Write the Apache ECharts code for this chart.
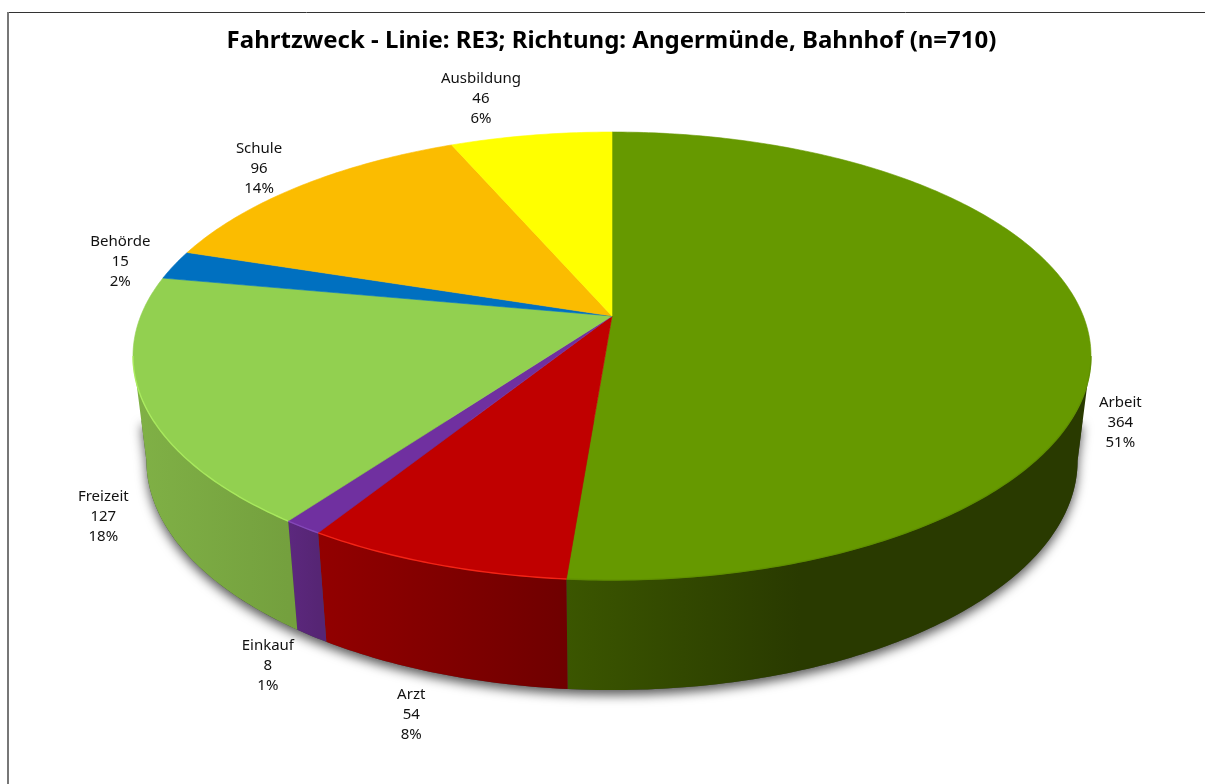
<!DOCTYPE html>
<html>
<head>
<meta charset="utf-8">
<script src="https://cdn.jsdelivr.net/npm/echarts@6/dist/echarts.min.js"></script>
<style>html,body{margin:0;padding:0;background:#fff}#c{width:1205px;height:784px}</style>
</head>
<body>
<div id="c"></div>
<script>
const titleText = 'Fahrtzweck - Linie: RE3; Richtung: Angermünde, Bahnhof (n=710)';
const categories = ['Arbeit', 'Arzt', 'Einkauf', 'Freizeit', 'Behörde', 'Schule', 'Ausbildung'];
const values = [364, 54, 8, 127, 15, 96, 46];
const percents = ['51%', '8%', '1%', '18%', '2%', '14%', '6%'];
const topColors = ['#669900', '#c00000', '#7030a0', '#92d050', '#0070c0', '#fbbc00', '#ffff00'];
const rimColors = ['#5f8f00', '#ff2a1a', '#8a4cc0', '#aef060', '#0070c0', '#fbbc00', '#ffff00'];
const wallFrom = ['#3b5600', '#920000', '#5c287e', '#80b146', '#005a9a', '#c89600', '#cccc00'];
const wallTo = ['#293a00', '#6f0000', '#562574', '#74a03e', '#005a9a', '#c89600', '#cccc00'];
const labelOffsets = [[34, 98], [-23, 151], [-35, 139], [-40, 114], [-54, -3], [-42, -17], [-50, -37]];

// Perspective projection of the unit disc onto the page
const K = 0.1786, CX = 612;
const topDisc = { b: 471.3, y0: 316, a: 160.4 };
const lowDisc = { b: 458.1, y0: 419.8, a: 147 };
const midDisc = { b: 463, y0: 380, a: 152 };
const SIL_A = 100.3, SIL_B = 259.7; // silhouette angles of the projected disc
function project(disc, deg) {
  const t = deg * Math.PI / 180, u = Math.sin(t), v = Math.cos(t), w = 1 + K * v;
  return [CX + disc.b * u / w, (disc.y0 - disc.a * v) / w];
}
const total = values.reduce((s, x) => s + x, 0);
const starts = [];
values.reduce((s, x, i) => { starts[i] = s; return s + x; }, 0);
const angle = x => x / total * 360;
function arc(disc, a0, a1) {
  const n = Math.max(2, Math.ceil((a1 - a0) / 0.75)), pts = [];
  for (let i = 0; i <= n; i++) pts.push(project(disc, a0 + (a1 - a0) * i / n));
  return pts;
}
const rows = values.map((v, i) => [i, v]);

function renderShadow(params, api) {
  if (params.dataIndex !== 0) return null;
  return {
    type: 'polygon', silent: true,
    shape: { points: arc(lowDisc, SIL_A, SIL_B).concat([project(midDisc, SIL_B), project(midDisc, SIL_A)]) },
    style: { fill: '#444', shadowBlur: 11, shadowColor: 'rgba(0,0,0,0.65)', shadowOffsetX: 0, shadowOffsetY: 5 }
  };
}
function renderWall(params, api) {
  const i = api.value(0), a0 = Math.max(angle(starts[i]), SIL_A), a1 = Math.min(angle(starts[i] + api.value(1)), SIL_B);
  if (a1 <= a0) return null;
  const top = arc(topDisc, a0, a1), low = arc(lowDisc, a0, a1).reverse();
  let xA = project(topDisc, a0)[0], xB = project(topDisc, a1)[0];
  if (i === 0) { xA = 567; xB = 800; }
  else if (xA > xB) { const s = xA; xA = xB; xB = s; }
  return {
    type: 'polygon', silent: true,
    shape: { points: top.concat(low) },
    style: {
      fill: { type: 'linear', global: true, x: xA, y: 0, x2: xB, y2: 0,
        colorStops: [{ offset: 0, color: wallFrom[i] }, { offset: 1, color: wallTo[i] }] }
    }
  };
}
function renderTop(params, api) {
  const i = api.value(0), a0 = angle(starts[i]), a1 = angle(starts[i] + api.value(1));
  return {
    type: 'polygon', silent: true,
    shape: { points: [[CX, topDisc.y0]].concat(arc(topDisc, a0, a1)) },
    style: { fill: topColors[i], stroke: topColors[i], lineWidth: 0.6 }
  };
}
function renderRim(params, api) {
  const i = api.value(0), a0 = Math.max(angle(starts[i]), SIL_A), a1 = Math.min(angle(starts[i] + api.value(1)), SIL_B);
  if (a1 <= a0) return null;
  return {
    type: 'polyline', silent: true,
    shape: { points: arc(topDisc, a0, a1) },
    style: { fill: null, stroke: rimColors[i], lineWidth: 1.4, opacity: 0.85 }
  };
}
function renderLabel(params, api) {
  const i = api.value(0), mid = angle(starts[i] + api.value(1) / 2), p = project(topDisc, mid);
  return {
    type: 'text', silent: true,
    style: {
      text: categories[i] + '\n' + api.value(1) + '\n' + percents[i],
      x: p[0] + labelOffsets[i][0], y: p[1] + labelOffsets[i][1],
      align: 'center', verticalAlign: 'middle',
      fontFamily: 'Noto Sans', fontSize: 15, lineHeight: 20, fill: '#111'
    }
  };
}
const mk = (fn, z) => ({ type: 'custom', coordinateSystem: 'none', renderItem: fn, data: rows, z, animation: false, silent: true, clip: false, encode: { value: 1 } });
const chart = echarts.init(document.getElementById('c'), null, { renderer: 'canvas' });
chart.setOption({
  animation: false,
  backgroundColor: '#fff',
  title: {
    text: titleText, left: 606.5, top: 24, textAlign: 'center',
    textStyle: { fontFamily: 'Noto Sans', fontWeight: 'bold', fontSize: 24, color: '#000' }
  },
  graphic: [
    { type: 'line', silent: true, z: 0, shape: { x1: 7, y1: 12.5, x2: 1205, y2: 12.5 }, style: { stroke: '#333', lineWidth: 1 } },
    { type: 'line', silent: true, z: 0, shape: { x1: 8, y1: 12, x2: 8, y2: 784 }, style: { stroke: '#777', lineWidth: 2 } }
  ],
  series: [mk(renderShadow, 1), mk(renderWall, 2), mk(renderTop, 3), mk(renderRim, 4), mk(renderLabel, 5)]
});
</script>
</body>
</html>
